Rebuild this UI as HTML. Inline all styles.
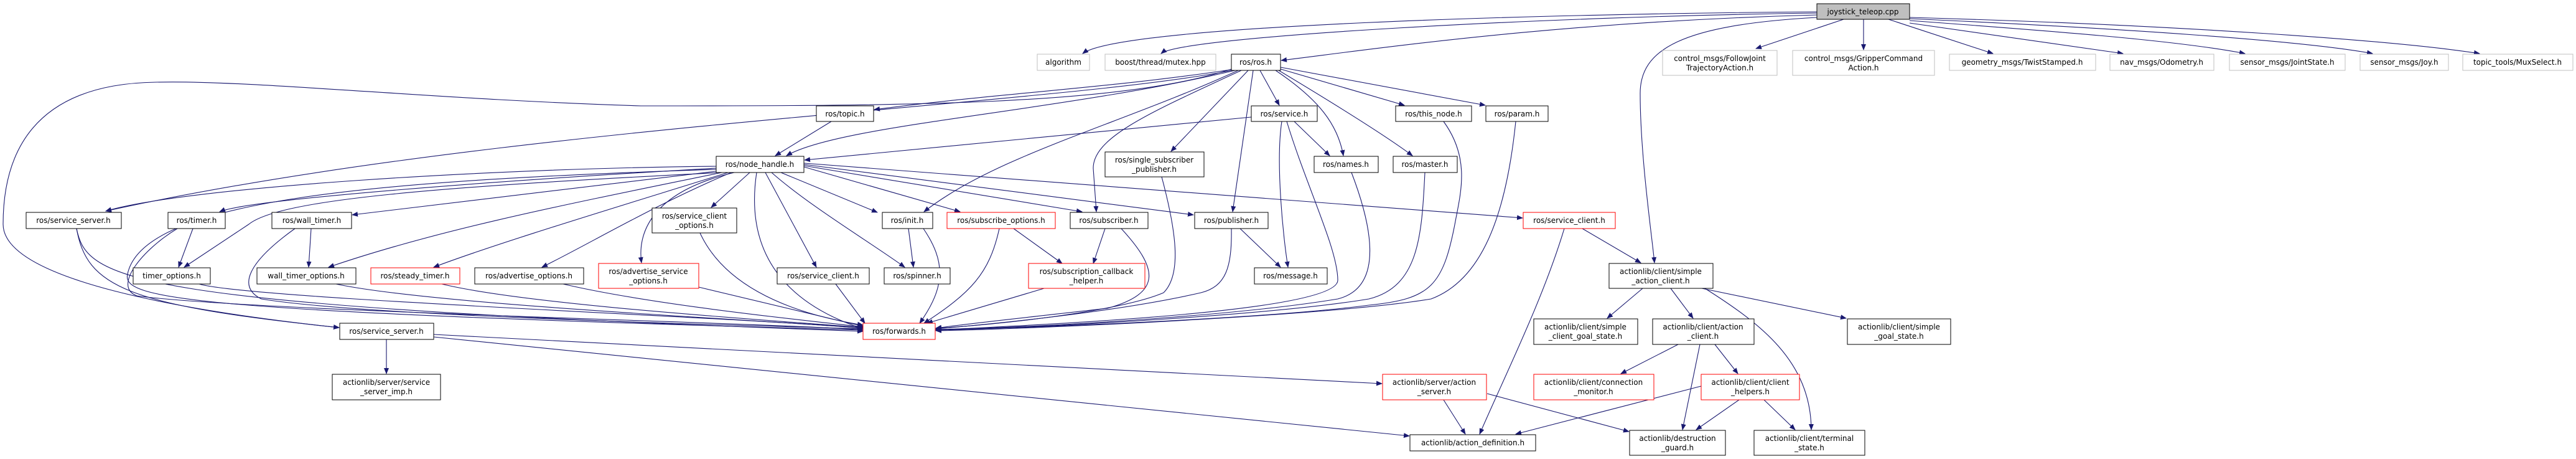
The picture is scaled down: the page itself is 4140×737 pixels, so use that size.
<!DOCTYPE html>
<html><head><meta charset="utf-8"><style>
html,body{margin:0;padding:0;background:#fff;width:4140px;height:737px;overflow:hidden}
svg{display:block}
text{font-family:"DejaVu Sans","Liberation Sans",sans-serif;font-size:12px;fill:#000;text-anchor:middle}
.e{fill:none;stroke:#191970;stroke-width:1.1;marker-end:url(#a)}
.b{fill:#fff;stroke:#000;stroke-width:1}
.r{fill:#fff;stroke:#ff0000;stroke-width:1}
.g{fill:#fff;stroke:#bfbfbf;stroke-width:1}
</style></head><body>
<svg width="4140" height="737" viewBox="0 0 4140 737" xmlns="http://www.w3.org/2000/svg">
<defs><marker id="a" markerWidth="10" markerHeight="8" refX="9" refY="4" orient="auto" markerUnits="userSpaceOnUse"><path d="M0,0 L10,4 L0,8 z" fill="#191970"/></marker></defs>
<g>
<path class="e" d="M2920,19 C2500,22 1800,40 1740,86"/>
<path class="e" d="M2920,21 C2500,26 1900,58 1866,86"/>
<path class="e" d="M2920,24 C2500,35 2200,80 2059,97"/>
<path class="e" d="M2963,31 L2822,78"/>
<path class="e" d="M2995,31 L2995,80"/>
<path class="e" d="M3035,31 L3203,86"/>
<path class="e" d="M3069,37 L3412,86"/>
<path class="e" d="M3069,33 C3300,50 3500,65 3608,86"/>
<path class="e" d="M3069,30 C3400,45 3700,65 3813,86"/>
<path class="e" d="M3069,28 C3500,40 3850,65 3985,86"/>
<path class="e" d="M2920,28 C2700,40 2636,80 2636,150 C2636,250 2655,380 2659,422"/>
<path class="e" d="M1990,110 C1800,140 1600,150 1405,176"/>
<path class="e" d="M1985,113 C1700,180 1350,200 1264,250"/>
<path class="e" d="M1985,112 C1700,170 800,200 170,339"/>
<path class="e" d="M1982,110 C1800,170 1450,170 1030,170 C700,160 400,128 250,132 C50,135 5,250 5,360 C5,450 300,500 545,526"/>
<path class="e" d="M1990,113 C1800,200 1600,250 1485,340"/>
<path class="e" d="M1995,113 C1850,180 1757,220 1757,270 L1762,340"/>
<path class="e" d="M2006,113 L1882,243"/>
<path class="e" d="M2014,113 L1981,340"/>
<path class="e" d="M2025,113 L2056,169"/>
<path class="e" d="M2050,113 C2120,160 2150,200 2159,250"/>
<path class="e" d="M2055,113 C2150,170 2230,220 2270,250"/>
<path class="e" d="M2055,110 L2257,169"/>
<path class="e" d="M2058,108 L2387,169"/>
<path class="e" d="M2011,188 L1293,257"/>
<path class="e" d="M2080,195 L2137,250"/>
<path class="e" d="M2060,195 C2050,260 2062,380 2070,429"/>
<path class="e" d="M2068,195 C2100,300 2150,400 2150,450 C2150,500 1700,520 1504,530"/>
<path class="e" d="M1336,195 L1246,250"/>
<path class="e" d="M1151,267 C800,270 300,300 170,339"/>
<path class="e" d="M1151,270 C800,290 400,320 353,340"/>
<path class="e" d="M1160,277 C700,300 450,320 400,360 L296,429"/>
<path class="e" d="M1151,275 L566,345"/>
<path class="e" d="M1160,277 C900,330 700,370 528,429"/>
<path class="e" d="M1170,277 C1000,330 800,390 697,429"/>
<path class="e" d="M1175,277 C1050,330 950,390 871,429"/>
<path class="e" d="M1180,277 C1040,310 1025,380 1031,422"/>
<path class="e" d="M1205,277 L1143,333"/>
<path class="e" d="M1230,277 L1312,429"/>
<path class="e" d="M1216,277 C1205,350 1210,470 1387,528"/>
<path class="e" d="M1240,277 C1300,330 1400,390 1454,429"/>
<path class="e" d="M1255,277 L1410,341"/>
<path class="e" d="M1292,268 L1543,340"/>
<path class="e" d="M1292,266 L1739,340"/>
<path class="e" d="M1292,264 L1918,345"/>
<path class="e" d="M1292,262 L2447,350"/>
<path class="e" d="M1151,272 C600,290 230,320 205,440 C195,480 300,500 1387,530"/>
<path class="e" d="M123,367 C140,450 200,490 1387,532"/>
<path class="e" d="M123,367 C140,460 200,490 545,526"/>
<path class="e" d="M310,367 L287,429"/>
<path class="e" d="M285,367 C230,400 180,460 220,475 C400,500 1300,520 1387,530"/>
<path class="e" d="M500,367 L496,429"/>
<path class="e" d="M474,367 C400,420 380,460 420,480 C600,510 1300,525 1387,528"/>
<path class="e" d="M320,456 C400,480 1200,510 1387,527"/>
<path class="e" d="M540,456 C700,490 1250,515 1387,527"/>
<path class="e" d="M710,456 C850,490 1250,515 1387,526"/>
<path class="e" d="M905,456 C1050,490 1300,515 1387,525"/>
<path class="e" d="M1123,461 L1387,524"/>
<path class="e" d="M1125,374 C1160,450 1250,500 1387,522"/>
<path class="e" d="M1343,456 L1390,519"/>
<path class="e" d="M1460,367 L1468,429"/>
<path class="e" d="M1484,367 C1520,420 1520,460 1478,519"/>
<path class="e" d="M1629,367 L1707,423"/>
<path class="e" d="M1606,367 C1590,440 1560,470 1485,519"/>
<path class="e" d="M1776,367 L1757,423"/>
<path class="e" d="M1802,367 C1860,430 1870,470 1780,495 C1650,510 1550,520 1504,527"/>
<path class="e" d="M1678,463 L1490,519"/>
<path class="e" d="M1993,367 L2058,429"/>
<path class="e" d="M1979,367 C1980,430 1970,460 1930,470 C1800,500 1600,520 1504,528"/>
<path class="e" d="M1867,284 C1890,370 1900,440 1870,470 C1800,500 1600,522 1504,527"/>
<path class="e" d="M2172,277 C2200,350 2230,460 2150,480 C2000,505 1700,525 1504,529"/>
<path class="e" d="M2290,277 C2285,380 2280,460 2200,480 C2050,505 1700,525 1504,530"/>
<path class="e" d="M2320,195 C2360,250 2350,300 2340,350 C2320,460 2300,480 2200,490 C2050,510 1700,525 1504,530"/>
<path class="e" d="M2436,195 C2420,350 2380,450 2300,480 C2150,505 1700,527 1504,531"/>
<path class="e" d="M621,545 L621,600"/>
<path class="e" d="M697,537 L2221,616"/>
<path class="e" d="M697,541 L2265,700"/>
<path class="e" d="M2543,367 L2637,422"/>
<path class="e" d="M2514,367 C2480,480 2420,600 2378,697"/>
<path class="e" d="M2640,463 L2583,511"/>
<path class="e" d="M2685,463 L2721,511"/>
<path class="e" d="M2735,463 L2967,511"/>
<path class="e" d="M2740,463 C2830,520 2910,580 2911,690"/>
<path class="e" d="M2697,553 L2605,600"/>
<path class="e" d="M2756,553 L2793,600"/>
<path class="e" d="M2732,553 L2704,690"/>
<path class="e" d="M2734,620 L2436,697"/>
<path class="e" d="M2795,642 L2726,690"/>
<path class="e" d="M2835,642 L2885,690"/>
<path class="e" d="M2320,642 L2355,697"/>
<path class="e" d="M2390,632 L2618,693"/>
</g>
<g>
<rect x="2920" y="6" width="149" height="25" fill="#bfbfbf" stroke="#000"/><text x="2994" y="23">joystick_teleop.cpp</text>
<rect class="g" x="2672" y="81" width="184" height="40"/><text x="2764" y="98">control_msgs/FollowJoint</text><text x="2764" y="113">TrajectoryAction.h</text>
<rect class="g" x="2881" y="81" width="228" height="40"/><text x="2995" y="98">control_msgs/GripperCommand</text><text x="2995" y="113">Action.h</text>
<rect class="g" x="3133" y="87" width="235" height="26"/><text x="3250" y="104">geometry_msgs/TwistStamped.h</text>
<rect class="g" x="3391" y="87" width="167" height="26"/><text x="3474" y="104">nav_msgs/Odometry.h</text>
<rect class="g" x="3583" y="87" width="186" height="26"/><text x="3676" y="104">sensor_msgs/JointState.h</text>
<rect class="g" x="3793" y="87" width="142" height="26"/><text x="3864" y="104">sensor_msgs/Joy.h</text>
<rect class="g" x="3958" y="87" width="177" height="26"/><text x="4046" y="104">topic_tools/MuxSelect.h</text>
<rect class="g" x="1667" y="87" width="84" height="26"/><text x="1709" y="104">algorithm</text>
<rect class="g" x="1776" y="87" width="178" height="26"/><text x="1865" y="104">boost/thread/mutex.hpp</text>
<rect class="b" x="1979" y="87" width="79" height="26"/><text x="2018" y="104">ros/ros.h</text>
<rect class="b" x="1312" y="170" width="92" height="25"/><text x="1358" y="187">ros/topic.h</text>
<rect class="b" x="2011" y="170" width="106" height="25"/><text x="2064" y="187">ros/service.h</text>
<rect class="b" x="2243" y="170" width="122" height="25"/><text x="2304" y="187">ros/this_node.h</text>
<rect class="b" x="2388" y="170" width="100" height="25"/><text x="2438" y="187">ros/param.h</text>
<rect class="b" x="1776" y="244" width="159" height="40"/><text x="1855" y="261">ros/single_subscriber</text><text x="1855" y="276">_publisher.h</text>
<rect class="b" x="2112" y="251" width="103" height="26"/><text x="2163" y="268">ros/names.h</text>
<rect class="b" x="2239" y="251" width="103" height="26"/><text x="2290" y="268">ros/master.h</text>
<rect class="b" x="1151" y="251" width="141" height="26"/><text x="1221" y="268">ros/node_handle.h</text>
<rect class="b" x="42" y="341" width="153" height="26"/><text x="118" y="358">ros/service_server.h</text>
<rect class="b" x="270" y="341" width="92" height="26"/><text x="316" y="358">ros/timer.h</text>
<rect class="b" x="437" y="341" width="128" height="26"/><text x="501" y="358">ros/wall_timer.h</text>
<rect class="b" x="1048" y="334" width="136" height="40"/><text x="1116" y="351">ros/service_client</text><text x="1116" y="366">_options.h</text>
<rect class="b" x="1418" y="341" width="81" height="26"/><text x="1458" y="358">ros/init.h</text>
<rect class="r" x="1522" y="341" width="174" height="26"/><text x="1609" y="358">ros/subscribe_options.h</text>
<rect class="b" x="1720" y="341" width="125" height="26"/><text x="1782" y="358">ros/subscriber.h</text>
<rect class="b" x="1920" y="341" width="118" height="26"/><text x="1979" y="358">ros/publisher.h</text>
<rect class="r" x="2448" y="341" width="148" height="26"/><text x="2522" y="358">ros/service_client.h</text>
<rect class="b" x="214" y="430" width="124" height="26"/><text x="276" y="447">timer_options.h</text>
<rect class="b" x="413" y="430" width="159" height="26"/><text x="492" y="447">wall_timer_options.h</text>
<rect class="r" x="596" y="430" width="143" height="26"/><text x="667" y="447">ros/steady_timer.h</text>
<rect class="b" x="763" y="430" width="175" height="26"/><text x="850" y="447">ros/advertise_options.h</text>
<rect class="r" x="962" y="423" width="161" height="40"/><text x="1042" y="440">ros/advertise_service</text><text x="1042" y="455">_options.h</text>
<rect class="b" x="1249" y="430" width="148" height="26"/><text x="1323" y="447">ros/service_client.h</text>
<rect class="b" x="1421" y="430" width="106" height="26"/><text x="1474" y="447">ros/spinner.h</text>
<rect class="r" x="1653" y="423" width="187" height="40"/><text x="1746" y="440">ros/subscription_callback</text><text x="1746" y="455">_helper.h</text>
<rect class="b" x="2016" y="430" width="117" height="26"/><text x="2074" y="447">ros/message.h</text>
<rect class="b" x="2586" y="423" width="167" height="40"/><text x="2669" y="440">actionlib/client/simple</text><text x="2669" y="455">_action_client.h</text>
<rect class="r" x="1387" y="519" width="116" height="26"/><text x="1445" y="536">ros/forwards.h</text>
<rect class="b" x="546" y="519" width="151" height="26"/><text x="621" y="536">ros/service_server.h</text>
<rect class="b" x="2465" y="512" width="167" height="41"/><text x="2548" y="529">actionlib/client/simple</text><text x="2548" y="544">_client_goal_state.h</text>
<rect class="b" x="2656" y="512" width="163" height="41"/><text x="2737" y="529">actionlib/client/action</text><text x="2737" y="544">_client.h</text>
<rect class="b" x="2969" y="512" width="166" height="41"/><text x="3052" y="529">actionlib/client/simple</text><text x="3052" y="544">_goal_state.h</text>
<rect class="b" x="534" y="601" width="174" height="41"/><text x="621" y="618">actionlib/server/service</text><text x="621" y="633">_server_imp.h</text>
<rect class="r" x="2222" y="601" width="167" height="41"/><text x="2305" y="618">actionlib/server/action</text><text x="2305" y="633">_server.h</text>
<rect class="r" x="2465" y="601" width="193" height="41"/><text x="2561" y="618">actionlib/client/connection</text><text x="2561" y="633">_monitor.h</text>
<rect class="r" x="2734" y="601" width="158" height="41"/><text x="2813" y="618">actionlib/client/client</text><text x="2813" y="633">_helpers.h</text>
<rect class="b" x="2266" y="698" width="202" height="26"/><text x="2367" y="715">actionlib/action_definition.h</text>
<rect class="b" x="2619" y="691" width="154" height="40"/><text x="2696" y="708">actionlib/destruction</text><text x="2696" y="723">_guard.h</text>
<rect class="b" x="2819" y="691" width="178" height="40"/><text x="2908" y="708">actionlib/client/terminal</text><text x="2908" y="723">_state.h</text>
</g>
</svg>
</body></html>
